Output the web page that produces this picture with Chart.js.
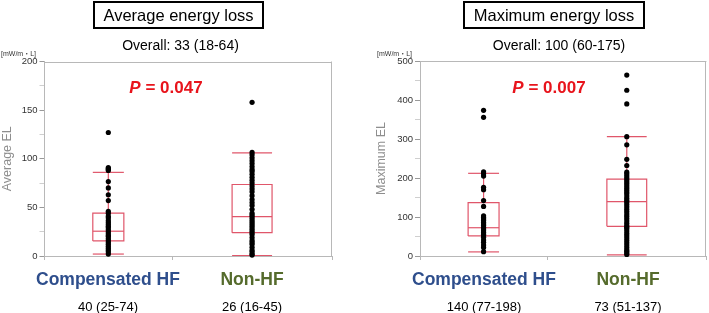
<!DOCTYPE html>
<html><head><meta charset="utf-8">
<script src="https://cdn.jsdelivr.net/npm/chart.js@4.4.1/dist/chart.umd.min.js"></script>
<style>
html,body{margin:0;padding:0;background:#fff;}
body{width:709px;height:313px;position:relative;overflow:hidden;font-family:"Liberation Sans",Arial,sans-serif;}
canvas{position:absolute;top:0;}
.t{position:absolute;white-space:nowrap;transform:translate(-50%,-50%);line-height:1;}
.tb{position:absolute;border:2px solid #000;box-sizing:border-box;display:flex;align-items:center;justify-content:center;font-size:16.5px;color:#000;}
</style></head><body>
<canvas id="c1" width="354" height="313" style="left:0px;width:354px;height:313px"></canvas>
<canvas id="c2" width="355" height="313" style="left:354px;width:355px;height:313px"></canvas>
<div id="overlay"></div>
<script>
// ---------------- data ----------------
const categories = ['Compensated HF', 'Non-HF'];
const panelTitles = ['Average energy loss', 'Maximum energy loss'];
const overallTexts = ['Overall: 33 (18-64)', 'Overall: 100 (60-175)'];
const pValues = ['0.047', '0.007'];
const unitLabel = '[mW/m・L]';
const yAxisTitles = ['Average EL', 'Maximum EL'];
const avgGroupStats = ['40 (25-74)', '26 (16-45)'];
const maxGroupStats = ['140 (77-198)', '73 (51-137)'];
const avgTicks = [0, 50, 100, 150, 200];
const maxTicks = [0, 100, 200, 300, 400, 500];

const avgWhiskerLow = [2, 0.5];
const avgQ1 = [15.5, 24];
const avgMedian = [25.5, 40.5];
const avgQ3 = [44, 73.5];
const avgWhiskerHigh = [86, 106];
const avgPointsCompHF = [127, 91, 90, 89, 88, 76.5, 70, 63, 57, 46, 44, 41, 39, 36.5, 34.5, 32.5, 30.5, 29, 27, 25, 23, 21, 20, 18, 16, 14, 12, 10, 8, 6, 4, 2];
const avgPointsNonHF = [158, 106.5, 104, 101, 98, 95, 92, 89, 87, 84, 81, 78, 75, 72, 69, 66, 62, 58, 55, 52, 48, 44, 42, 40, 38, 36, 34, 32, 30, 28, 26, 24, 22, 19, 16, 14, 12, 9, 6, 4, 2, 1];

const maxWhiskerLow = [10.5, 3];
const maxQ1 = [51.5, 76];
const maxMedian = [72.5, 139.5];
const maxQ3 = [137, 197];
const maxWhiskerHigh = [212, 306];
const maxPointsCompHF = [373.5, 355.5, 216, 211, 205, 176, 170, 142, 127, 103, 99, 95, 91, 86, 82, 78, 73, 69, 65, 60, 56, 52, 48, 41, 35, 28, 22, 11];
const maxPointsNonHF = [464, 425, 390, 306, 285, 248, 232, 215, 210, 205, 200, 195, 190, 185, 180, 175, 170, 165, 160, 154, 148, 143, 138, 132, 126, 120, 114, 108, 102, 96, 90, 84, 78, 74, 70, 64, 58, 52, 46, 40, 34, 28, 22, 16, 12, 8, 4];

// ---------------- styling / layout ----------------
const FONT = '"Liberation Sans", Arial, sans-serif';
const BOX = '#E0566A';
const AXIS = '#b8b8b8';
const boxHalf = [0.108, 0.139];
const xMin = -0.444, xMax = 1.556, xMid = 0.444;

function buildDatasets(points, wl, q1, med, q3, wh) {
  const ds = [];
  points.forEach((arr, i) => ds.push({
    data: arr.map(v => ({x: i, y: v})), pointRadius: 2.6, pointHoverRadius: 2.6,
    pointBackgroundColor: '#000', pointBorderWidth: 0, showLine: false, order: 0, clip: false
  }));
  const seg = pts => ({data: pts, showLine: true, borderColor: BOX, borderWidth: 1.2, pointRadius: 0, pointHoverRadius: 0, fill: false, order: 1, tension: 0, clip: false});
  for (let i = 0; i < categories.length; i++) {
    const h = boxHalf[i];
    ds.push(seg([{x: i - h, y: q1[i]}, {x: i + h, y: q1[i]}, {x: i + h, y: q3[i]}, {x: i - h, y: q3[i]}, {x: i - h, y: q1[i]}]));
    ds.push(seg([{x: i - h, y: med[i]}, {x: i + h, y: med[i]}]));
    ds.push(seg([{x: i, y: q3[i]}, {x: i, y: wh[i]}]));
    ds.push(seg([{x: i, y: q1[i]}, {x: i, y: wl[i]}]));
    ds.push(seg([{x: i - h, y: wh[i]}, {x: i + h, y: wh[i]}]));
    ds.push(seg([{x: i - h, y: wl[i]}, {x: i + h, y: wl[i]}]));
  }
  return ds;
}

const framePlugin = {
  id: 'frame',
  beforeDatasetsDraw(chart) {
    const {ctx, chartArea: a} = chart;
    ctx.save();
    ctx.strokeStyle = AXIS;
    ctx.lineWidth = 1;
    ctx.beginPath();
    ctx.moveTo(a.left, Math.round(a.top) + 0.5);
    ctx.lineTo(a.right, Math.round(a.top) + 0.5);
    ctx.moveTo(Math.round(a.right) - 0.5, a.top);
    ctx.lineTo(Math.round(a.right) - 0.5, a.bottom);
    ctx.stroke();
    ctx.restore();
  }
};

function makeChart(id, datasets, yMax, step, majors, title, axisWidth, padding) {
  return new Chart(document.getElementById(id), {
    type: 'scatter',
    data: {datasets},
    plugins: [framePlugin],
    options: {
      responsive: false, animation: false, devicePixelRatio: 1,
      layout: {padding},
      plugins: {legend: {display: false}, tooltip: {enabled: false}},
      events: [],
      scales: {
        x: {
          type: 'linear', min: xMin, max: xMax,
          afterBuildTicks: s => { s.ticks = [xMin, xMid, xMax].map(v => ({value: v})); },
          ticks: {display: false},
          grid: {drawOnChartArea: false, drawTicks: true, tickLength: 4, color: AXIS},
          border: {color: AXIS},
          afterFit: s => { s.height = 4; }
        },
        y: {
          min: 0, max: yMax,
          afterBuildTicks: s => { const t = []; for (let v = 0; v <= yMax; v += step) t.push({value: v}); s.ticks = t; },
          ticks: {
            autoSkip: false, padding: 2, color: '#333',
            font: {family: FONT, size: 9.5},
            callback: v => majors.includes(v) ? String(v) : ''
          },
          grid: {
            drawOnChartArea: false, drawTicks: true, tickLength: 5,
            color: c => (c.tick && majors.includes(c.tick.value)) ? '#999' : '#cfcfcf'
          },
          border: {color: AXIS},
          title: {display: true, text: title, color: '#8e8e8e', font: {family: FONT, size: 12.5}, padding: {top: 0, bottom: 0}},
          afterFit: s => { s.width = axisWidth; }
        }
      }
    }
  });
}

makeChart('c1', buildDatasets([avgPointsCompHF, avgPointsNonHF], avgWhiskerLow, avgQ1, avgMedian, avgQ3, avgWhiskerHigh),
  avgTicks[avgTicks.length - 1], 25, avgTicks, yAxisTitles[0], 44.5, {top: 61.5, bottom: 53, left: 0, right: 22});
makeChart('c2', buildDatasets([maxPointsCompHF, maxPointsNonHF], maxWhiskerLow, maxQ1, maxMedian, maxQ3, maxWhiskerHigh),
  maxTicks[maxTicks.length - 1], 50, maxTicks, yAxisTitles[1], 45.5, {top: 61, bottom: 53, left: 20.5, right: 1.5});

// ---------------- text overlay ----------------
const ov = document.getElementById('overlay');
function txt(s, x, y, css) {
  const d = document.createElement('div');
  d.className = 't'; d.style.left = x + 'px'; d.style.top = y + 'px';
  d.style.cssText += css; d.textContent = s; ov.appendChild(d); return d;
}
function tbox(s, x, w) {
  const d = document.createElement('div');
  d.className = 'tb'; d.style.left = x + 'px'; d.style.top = '1px'; d.style.width = w + 'px'; d.style.height = '28px';
  d.textContent = s; ov.appendChild(d);
}
tbox(panelTitles[0], 93, 171);
tbox(panelTitles[1], 463, 182);
txt(overallTexts[0], 180.5, 45, 'font-size:14px;color:#000;');
txt(overallTexts[1], 559, 45, 'font-size:14px;color:#000;');
function pText(v, x) {
  const d = txt('', x, 87, 'font-size:17px;font-weight:bold;color:#E8141C;');
  d.innerHTML = '<i>P</i> = ' + v;
}
pText(pValues[0], 166);
pText(pValues[1], 549);
txt(unitLabel, 18.5, 53, 'font-size:7px;color:#333;font-family:"Liberation Sans","Noto Sans CJK JP",sans-serif;');
txt(unitLabel, 394.5, 53, 'font-size:7px;color:#333;font-family:"Liberation Sans","Noto Sans CJK JP",sans-serif;');
const catColors = ['#2E4E8C', '#556B2C'];
const catX = [[108, 252], [484, 628]];
[0, 1].forEach(p => {
  categories.forEach((c, i) => txt(c, catX[p][i], 280, 'font-size:17.5px;font-weight:bold;color:' + catColors[i] + ';'));
});
avgGroupStats.forEach((s, i) => txt(s, catX[0][i], 305.5, 'font-size:13px;color:#000;'));
maxGroupStats.forEach((s, i) => txt(s, catX[1][i], 305.5, 'font-size:13px;color:#000;'));
</script>
</body></html>
